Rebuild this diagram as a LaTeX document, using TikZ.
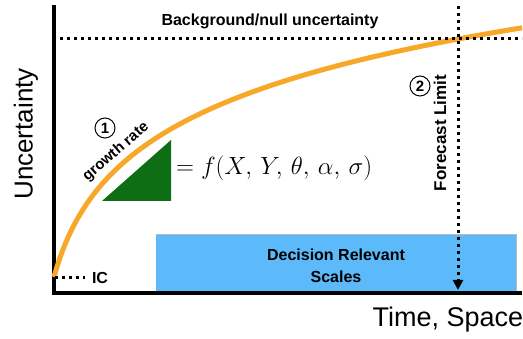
\documentclass[tikz,border=0pt]{standalone}
\usepackage{fontspec}
\setmainfont{Liberation Sans}
\usetikzlibrary{arrows.meta}
\definecolor{curveorange}{RGB}{247,168,40}
\definecolor{trigreen}{RGB}{14,110,20}
\definecolor{scaleblue}{RGB}{92,185,250}
\tikzset{
  lbl/.style={font=\bfseries\fontsize{16}{19}\selectfont, inner sep=0pt},
  biglbl/.style={font=\fontsize{27}{30}\selectfont, inner sep=0pt},
  dotline/.style={line width=3pt, dash pattern=on 3.2pt off 3.8pt},
  axisline/.style={line width=4pt, line join=miter},
  circnum/.style={circle, draw, line width=1pt, inner sep=0pt, minimum size=20pt, font=\bfseries\fontsize{15}{15}\selectfont},
  uncurve/.style={curveorange, line width=5pt},
}
\begin{document}
\begin{tikzpicture}[x=1pt,y=1pt]
\useasboundingbox (0,0) rectangle (523,339);
% decision relevant scales box
\fill[scaleblue] (156,46) rectangle (516,105);
\draw[gray!55, line width=0.6pt] (156,105) -- (516,105) -- (516,46);
\node[lbl, align=center] (drs) at (336,73) {Decision Relevant\\[3pt]Scales};
% axes
\coordinate (org) at (54,46);
\coordinate (ytop) at (54,334);
\coordinate (xend) at (522,46);
\draw[axisline] (ytop) -- (org) -- (xend);
% uncertainty curve
\draw[uncurve, domain=54:522, samples=160] plot (\x, {62+80.3*ln(1+(\x-54)/22)});
% background line
\coordinate (bgl) at (60,300);
\coordinate (bgr) at (522,300);
\draw[dotline] (bgl) -- (bgr);
\node[lbl] (bg) at (270,318) {Background/null uncertainty};
% IC
\coordinate (icl) at (55,61);
\coordinate (icr) at (85,61);
\draw[dotline] (icl) -- (icr);
\node[lbl] (ic) at (100,61) {IC};
% forecast limit
\coordinate (fltop) at (458,333);
\coordinate (flbot) at (458,49);
\draw[dotline, -{Triangle[width=10pt,length=10pt]}] (fltop) -- (flbot);
\node[lbl, font=\bfseries\fontsize{17}{19}\selectfont, rotate=90] (fl) at (440,206) {Forecast Limit};
\node[circnum] (c2) at (420,253) {2};
% growth rate
\fill[trigreen] (102,138) -- (171,199) -- (171,138) -- cycle;
\node[lbl, font=\bfseries\fontsize{15}{17}\selectfont, rotate=41] (gr) at (116,187) {growth rate};
\node[circnum] (c1) at (105,211) {1};
\node[inner sep=0pt, anchor=west, font=\fontsize{30}{34}\selectfont] (eq) at (176,171) {$= f(X,\, Y,\, \theta,\, \alpha,\, \sigma)$};
% axis labels
\node[biglbl, font=\fontsize{26}{30}\selectfont, rotate=90] (ylab) at (26,205) {Uncertainty};
\node[biglbl, anchor=base] (xlab) at (448,12) {Time, Space};
\end{tikzpicture}
\end{document}
